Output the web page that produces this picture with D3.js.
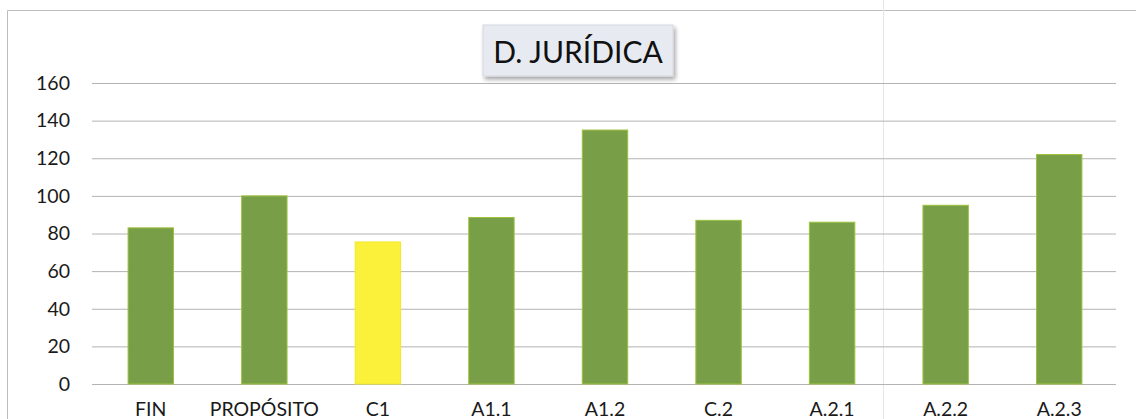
<!DOCTYPE html>
<html>
<head>
<meta charset="utf-8">
<script src="https://cdn.jsdelivr.net/npm/d3@7"></script>
<style>
  html, body { margin: 0; padding: 0; background: #ffffff; }
  svg { display: block; }
</style>
</head>
<body>
<svg id="chart" width="1136" height="419"></svg>
<script>
const categories = ["FIN", "PROPÓSITO", "C1", "A1.1", "A1.2", "C.2", "A.2.1", "A.2.2", "A.2.3"];
const values = [83, 100, 75.5, 88.5, 135, 87, 86, 95, 122];
const highlight = ["C1"];
const yTicks = [0, 20, 40, 60, 80, 100, 120, 140, 160];
const title = "D. JURÍDICA";

const svg = d3.select("#chart");
const font = "Lato, 'Open Sans', sans-serif";

const x = d3.scaleBand().domain(categories).range([94, 1116]).paddingInner(0.6).paddingOuter(0.3);
const y = d3.scaleLinear().domain([0, 160]).range([384, 83]);

// outer frame (scan border)
svg.append("path")
  .attr("d", "M7.5,419 L7.5,10.5 L1136,10.5")
  .attr("fill", "none").attr("stroke", "#bdbdbd").attr("stroke-width", 1);
// faint fold line
svg.append("line").attr("x1", 883.5).attr("x2", 883.5).attr("y1", 0).attr("y2", 419)
  .attr("stroke", "#e6e6e6").attr("stroke-width", 1);

// gridlines
const grid = svg.append("g")
  .call(d3.axisLeft(y).tickValues(yTicks).tickSize(-(1116 - 92)).tickFormat(""))
  .attr("transform", "translate(92,0)");
grid.select(".domain").remove();
grid.selectAll(".tick line").attr("stroke", "#b3b3b3").attr("stroke-width", 1);

// y labels
const yAxis = svg.append("g").attr("transform", "translate(70,0)")
  .call(d3.axisLeft(y).tickValues(yTicks).tickSize(0).tickPadding(0));
yAxis.select(".domain").remove();
yAxis.selectAll("text").attr("font-family", font).attr("font-size", "19.5px").attr("fill", "#1a1a1a");

// bars
svg.append("g").selectAll("rect").data(categories).join("rect")
  .attr("x", d => x(d))
  .attr("width", x.bandwidth())
  .attr("y", (d, i) => y(values[i]))
  .attr("height", (d, i) => y(0) - y(values[i]))
  .attr("fill", d => highlight.includes(d) ? "#fbf03a" : "#789f48")
  .attr("stroke", d => highlight.includes(d) ? "#f2e829" : "#9fc23e")
  .attr("stroke-width", 1);

// x labels
const xAxis = svg.append("g").attr("transform", "translate(0,384)")
  .call(d3.axisBottom(x).tickSize(0).tickPadding(18));
xAxis.select(".domain").remove();
xAxis.selectAll("text").attr("font-family", font).attr("font-size", "19.5px").attr("fill", "#1a1a1a")
  .attr("dy", "0.71em");

// title box
const defs = svg.append("defs");
const f = defs.append("filter").attr("id", "sh").attr("x", "-10%").attr("y", "-20%").attr("width", "130%").attr("height", "150%");
f.append("feDropShadow").attr("dx", 2).attr("dy", 3).attr("stdDeviation", 2).attr("flood-color", "#000").attr("flood-opacity", 0.35);
svg.append("rect").attr("x", 483).attr("y", 25).attr("width", 190).attr("height", 51)
  .attr("fill", "#e7ebf1").attr("stroke", "#d4d8de").attr("filter", "url(#sh)");
svg.append("text").attr("x", 578).attr("y", 63).attr("text-anchor", "middle")
  .attr("font-family", font).attr("font-size", "30px").attr("fill", "#111")
  .text(title);
</script>
</body>
</html>
